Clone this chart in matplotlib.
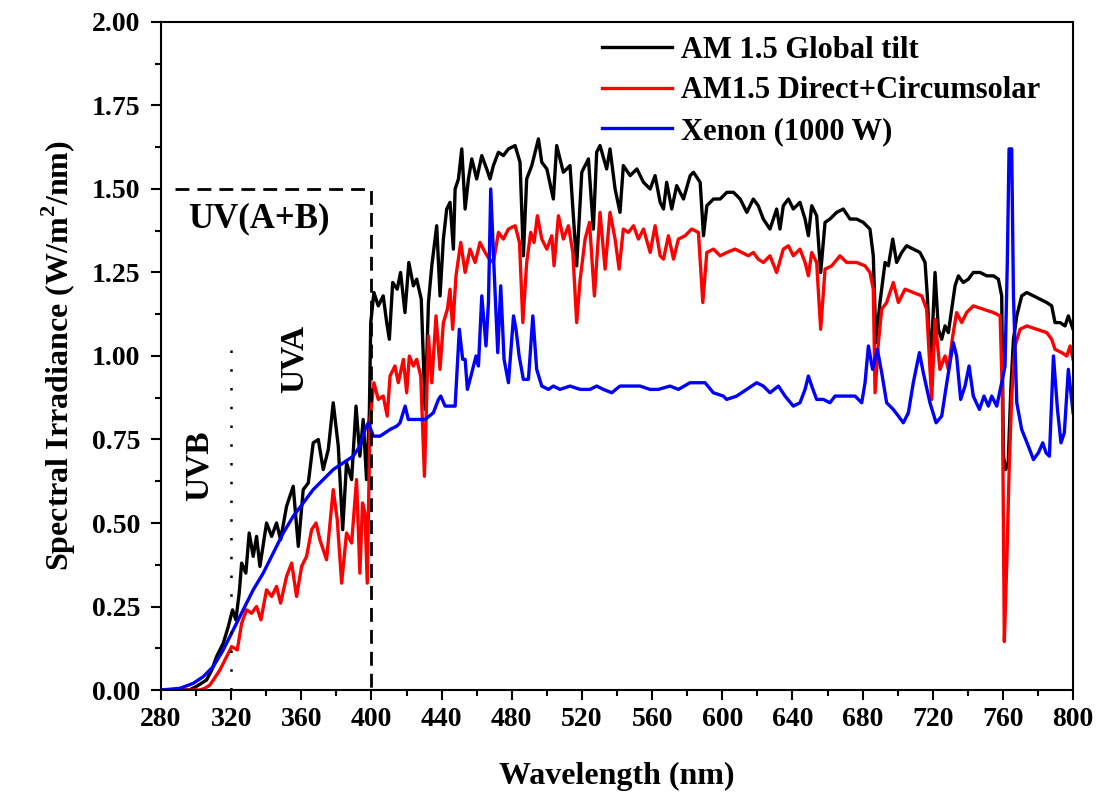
import matplotlib
matplotlib.use("Agg")
import matplotlib.pyplot as plt
from matplotlib.ticker import MultipleLocator

# AM 1.5 Global tilt
wl_global = [280, 290, 296, 300, 303, 306, 309, 311.7, 315.5, 318.4, 320.8, 322.7, 324.6, 326, 328.4,
             330.3, 332.6, 334.5, 336.4, 340.2, 343.1, 345.9, 348.2, 351.6, 355.4, 358.3, 361.1, 364,
             366.8, 369.7, 372.5, 375.4, 378.2, 381.1, 383.6, 385.8, 388.7, 391.2, 393.4, 395.3, 397.2,
             398.8, 399.6, 401.4, 403.9, 406.7, 408.7, 410.2, 412.1, 414.7, 416.6, 419.1, 421.3, 423.9,
             425.8, 428.4, 430.6, 432.5, 434.4, 437.2, 439.1, 441, 442.9, 444.8, 446.7, 447.7, 449.6,
             451.5, 453.4, 455.3, 457.2, 460, 462.9, 465.7, 467.6, 469.5, 472.4, 475.2, 478.1, 481.9,
             484.7, 486.6, 488.5, 491.4, 493.3, 495.2, 497.1, 500, 503.7, 505.6, 509.4, 513.2, 517,
             519.9, 523.7, 526.5, 528.4, 530.3, 534.1, 536, 538.9, 541.7, 543.6, 547.5, 551.3, 555.1,
             558.9, 561.7, 564.6, 566.5, 568.3, 571.2, 574, 577.9, 581.7, 583.6, 587.4, 589.3, 591.2,
             595, 598.8, 602.6, 606.4, 610.2, 614, 617.7, 620.5, 623.4, 627.2, 631, 632.9, 634.8, 637.7,
             640.5, 644.3, 647.2, 649.1, 651, 653.8, 656.1, 658.6, 661.4, 665.2, 669, 672.8, 676.6,
             680.4, 684.2, 686.1, 687.6, 689.9, 692.8, 694.7, 697.2, 699.4, 702.3, 705.1, 708.9, 712.7,
             715.6, 716.9, 718.8, 721.3, 723.2, 725.1, 727, 728.9, 730.8, 732.7, 734.6, 737.4, 740.3,
             743.1, 747, 750.8, 754.6, 757.4, 759.3, 760.3, 761.5, 763, 764.5, 766, 767.9, 770.7, 773.6,
             777.4, 781.2, 785, 787.8, 789.7, 792.6, 795.4, 797.3, 800]
irr_global = [0, 0, 0, 0.01, 0.02, 0.03, 0.06, 0.10, 0.14, 0.19, 0.24, 0.21, 0.29, 0.38, 0.35,
              0.47, 0.40, 0.46, 0.37, 0.50, 0.46, 0.50, 0.45, 0.55, 0.61, 0.43, 0.60, 0.62,
              0.74, 0.75, 0.66, 0.72, 0.86, 0.73, 0.48, 0.68, 0.63, 0.85, 0.70, 0.81, 0.63,
              0.83, 1.10, 1.19, 1.15, 1.18, 1.10, 1.05, 1.22, 1.20, 1.25, 1.13, 1.28, 1.21,
              1.23, 1.17, 0.84, 1.16, 1.27, 1.39, 1.18, 1.35, 1.44, 1.46, 1.32, 1.50, 1.53,
              1.62, 1.44, 1.53, 1.59, 1.53, 1.60, 1.56, 1.53, 1.57, 1.61, 1.60, 1.62, 1.63,
              1.58, 1.30, 1.53, 1.57, 1.61, 1.65, 1.58, 1.56, 1.47, 1.63, 1.55, 1.57, 1.27,
              1.55, 1.59, 1.38, 1.61, 1.63, 1.56, 1.62, 1.50, 1.43, 1.57, 1.54, 1.56, 1.52,
              1.50, 1.54, 1.46, 1.44, 1.52, 1.44, 1.51, 1.47, 1.54, 1.55, 1.52, 1.36, 1.45,
              1.47, 1.47, 1.49, 1.49, 1.47, 1.43, 1.47, 1.45, 1.41, 1.38, 1.44, 1.38, 1.45, 1.47,
              1.44, 1.46, 1.41, 1.36, 1.45, 1.42, 1.25, 1.40, 1.41, 1.43, 1.44, 1.41, 1.41,
              1.40, 1.38, 1.30, 1.04, 1.16, 1.28, 1.27, 1.35, 1.28, 1.31, 1.33, 1.32, 1.31,
              1.28, 1.18, 0.96, 1.25, 1.08, 1.05, 1.09, 1.07, 1.14, 1.21, 1.24, 1.22, 1.23,
              1.25, 1.25, 1.24, 1.24, 1.23, 1.18, 0.70, 0.66, 0.68, 0.90, 1.05, 1.12, 1.18, 1.19,
              1.18, 1.17, 1.16, 1.15, 1.10, 1.10, 1.09, 1.12, 1.08]

# AM1.5 Direct + Circumsolar
wl_direct = [280, 300, 302.2, 305, 307.9, 310.5, 313.6, 317.4, 320.3, 323.5, 326, 328.8, 331.7, 334.5,
             337, 340.2, 343.1, 345.9, 348.2, 351.6, 354.5, 357.3, 360.2, 363, 365.9, 368.4, 370.6,
             374.4, 378.2, 380.5, 383, 385.8, 388.7, 391.5, 393.4, 394.9, 396.3, 397.6, 399.2, 401.4,
             403.9, 406.7, 409, 410.6, 413.4, 415.3, 418.2, 420.1, 421.6, 423.9, 425.8, 428.1, 430.2,
             432.5, 434.4, 436.8, 439.1, 441, 443.3, 444.8, 446.3, 448.2, 450.9, 453.4, 456.2, 459.1,
             461.9, 464.8, 467.2, 469.5, 472.4, 475.2, 478.1, 481.9, 484.4, 486.3, 488.5, 490.8, 492.7,
             494.6, 497.1, 500, 502.8, 504.1, 506.6, 509.4, 512.3, 514.8, 517, 519, 521.8, 524.3,
             527.1, 530.3, 533.2, 536, 538.9, 541.2, 543.6, 546.5, 549.4, 552.2, 555.1, 558.9, 561.7,
             564.6, 566.5, 569.3, 572.2, 575, 578.8, 582.6, 586.4, 588.9, 591.2, 595, 598.8, 602.6,
             607.3, 611.1, 614.9, 617.7, 620.5, 623.4, 627.2, 631, 634.8, 637.7, 640.5, 644.3, 647.2,
             649.1, 651, 653.8, 656.1, 658.6, 662.4, 667.1, 670.9, 676.6, 681.4, 684.2, 686.1, 687.1,
             689, 690.9, 693.7, 697.5, 700.4, 704.2, 708.9, 713.7, 716.5, 719.4, 721.3, 724.1, 727,
             728.9, 731.4, 733.6, 736.5, 739.3, 743.1, 748.9, 754.6, 758.4, 759.7, 760.8, 762.2, 763.5,
             765, 766.9, 769.8, 773.6, 779.3, 785, 787.8, 789.7, 793.5, 796.4, 798.3, 800]
irr_direct = [0, 0, 0, 0.005, 0.015, 0.035, 0.06, 0.10, 0.13, 0.12, 0.20, 0.24, 0.23, 0.25,
              0.21, 0.30, 0.28, 0.31, 0.26, 0.34, 0.38, 0.28, 0.37, 0.40, 0.48, 0.50, 0.45,
              0.39, 0.60, 0.51, 0.32, 0.47, 0.44, 0.63, 0.35, 0.56, 0.53, 0.32, 0.81, 0.92,
              0.87, 0.88, 0.82, 0.94, 0.97, 0.92, 0.99, 0.89, 1.00, 0.97, 0.99, 0.94, 0.64,
              1.06, 0.92, 1.12, 0.96, 1.10, 1.14, 1.20, 1.08, 1.24, 1.34, 1.25, 1.32, 1.28,
              1.34, 1.31, 1.29, 1.28, 1.37, 1.35, 1.38, 1.39, 1.34, 1.10, 1.28, 1.37, 1.34,
              1.42, 1.35, 1.32, 1.36, 1.27, 1.42, 1.35, 1.39, 1.31, 1.10, 1.23, 1.35, 1.40,
              1.18, 1.43, 1.26, 1.43, 1.35, 1.26, 1.38, 1.37, 1.39, 1.35, 1.38, 1.31, 1.39,
              1.30, 1.29, 1.36, 1.29, 1.35, 1.36, 1.38, 1.37, 1.16, 1.31, 1.32, 1.30, 1.31,
              1.32, 1.31, 1.30, 1.31, 1.29, 1.28, 1.30, 1.25, 1.32, 1.33, 1.30, 1.32, 1.28,
              1.24, 1.31, 1.28, 1.08, 1.26, 1.27, 1.30, 1.28, 1.28, 1.27, 1.25, 1.20, 0.89,
              1.04, 1.14, 1.16, 1.22, 1.16, 1.20, 1.19, 1.18, 1.14, 0.87, 1.11, 0.96, 1.00,
              0.96, 1.06, 1.13, 1.10, 1.13, 1.15, 1.14, 1.13, 1.12, 0.88, 0.145, 0.38, 0.65,
              0.88, 1.03, 1.08, 1.09, 1.08, 1.07, 1.05, 1.02, 1.01, 1.00, 1.03, 0.99]

# Xenon lamp (1000 W)
wl_xenon = [280, 290.8, 298.4, 304.1, 309.8, 315.5, 321.2, 326.9, 332.6, 338.3, 344, 349.7, 355.4,
            361.1, 366.8, 372.5, 378.2, 383.9, 389.6, 393.4, 396.3, 398.2, 401.1, 404.9, 410.6, 414.4,
            416.3, 419.2, 421, 425.8, 430.6, 435.3, 438.2, 439.5, 442, 444.8, 447.7, 450.1, 452,
            453.4, 454.7, 457.2, 459.6, 461, 462.9, 465.3, 466.7, 468, 469.9, 472, 473.7, 475.6,
            478.1, 481, 482.4, 484.2, 486.6, 489.5, 492, 494.2, 497.1, 500.9, 503.7, 507.5, 513.2,
            519, 524.6, 528.4, 532.2, 537, 541.7, 545.5, 553.1, 558.8, 563.6, 570.2, 575, 581.6,
            585.4, 590.2, 594.9, 600.6, 602.5, 608.2, 613.9, 619.6, 623.4, 627.2, 632, 635.8, 640.5,
            644.3, 647.2, 649.1, 651, 653.8, 657.6, 661.4, 664.3, 669, 672.8, 675.7, 679.5, 681.4,
            683.3, 685.7, 688.4, 690.9, 693.7, 697.5, 700.4, 703.2, 706.1, 708.9, 712.4, 714.6,
            718.4, 721.9, 725.1, 728, 731.7, 733.6, 735.9, 738.4, 740.7, 743.1, 746.6, 749.2, 751.7,
            753.6, 756.5, 759.3, 761.2, 762.5, 763.5, 765, 766, 767.9, 770.7, 774.5, 777.4, 780.2,
            782.7, 784.6, 786.5, 788.8, 791.1, 793.1, 795, 797.3, 800]
irr_xenon = [0, 0.005, 0.02, 0.04, 0.07, 0.12, 0.18, 0.24, 0.30, 0.35, 0.41, 0.47, 0.52,
             0.56, 0.60, 0.63, 0.66, 0.68, 0.70, 0.73, 0.78, 0.80, 0.76, 0.76, 0.78, 0.79,
             0.80, 0.85, 0.81, 0.81, 0.81, 0.83, 0.87, 0.88, 0.85, 0.85, 0.85, 1.08, 0.99,
             0.99, 0.90, 0.95, 1.00, 0.97, 1.18, 1.03, 1.16, 1.50, 1.26, 1.01, 1.21, 0.99,
             0.92, 1.12, 1.08, 1.00, 0.93, 0.93, 1.12, 0.96, 0.91, 0.90, 0.91, 0.90, 0.91,
             0.90, 0.90, 0.91, 0.90, 0.89, 0.91, 0.91, 0.91, 0.90, 0.90, 0.91, 0.90, 0.92,
             0.92, 0.92, 0.89, 0.88, 0.87, 0.88, 0.90, 0.92, 0.91, 0.89, 0.91, 0.88, 0.85,
             0.86, 0.90, 0.94, 0.91, 0.87, 0.87, 0.86, 0.88, 0.88, 0.88, 0.88, 0.86, 0.92,
             1.03, 0.96, 1.02, 0.95, 0.86, 0.84, 0.82, 0.80, 0.83, 0.92, 1.01, 0.95,
             0.86, 0.80, 0.82, 0.92, 1.04, 1.00, 0.87, 0.91, 0.97, 0.88, 0.84, 0.88, 0.85,
             0.88, 0.85, 0.92, 0.97, 1.28, 1.62, 1.62, 1.18, 0.86, 0.78, 0.73, 0.69, 0.71,
             0.74, 0.71, 0.70, 1.00, 0.84, 0.74, 0.77, 0.96, 0.83]

x_ticks = list(range(280, 801, 40))
y_ticks = [0.00, 0.25, 0.50, 0.75, 1.00, 1.25, 1.50, 1.75, 2.00]

FONT = "Liberation Serif"


def main():
    plt.rcParams["font.family"] = FONT
    plt.rcParams["font.weight"] = "bold"
    plt.rcParams["mathtext.fontset"] = "custom"
    plt.rcParams["mathtext.rm"] = FONT + ":bold"
    plt.rcParams["mathtext.bf"] = FONT + ":bold"

    fig = plt.figure(figsize=(11.04, 7.99), dpi=100)
    ax = fig.add_axes([0.1458, 0.1364, 0.8262, 0.8361])

    lw = 2.4
    ax.plot(wl_global, irr_global, color="black", lw=lw, label="AM 1.5 Global tilt")
    ax.plot(wl_direct, irr_direct, color="#ff0000", lw=lw, label="AM1.5 Direct+Circumsolar")
    ax.plot(wl_xenon, irr_xenon, color="#0000ff", lw=lw, label="Xenon (1000 W)")

    # UV region markers
    ax.plot([288, 400, 400], [1.5, 1.5, 0], color="black", lw=2.0,
            linestyle=(0, (5, 2.9)), zorder=4)
    ax.plot([320, 320], [0, 1.05], color="black", lw=1.8,
            linestyle=(0, (1, 6.5)), zorder=4)

    ax.text(336, 1.41, "UV(A+B)", fontsize=25, fontweight="bold", ha="center", va="center")
    ax.text(302, 0.67, "UVB", fontsize=24, fontweight="bold", ha="center", va="center",
            rotation=90)
    ax.text(356, 0.99, "UVA", fontsize=24, fontweight="bold", ha="center", va="center",
            rotation=90)

    ax.set_xlim(280, 800)
    ax.set_ylim(0, 2.0)
    ax.set_xticks(x_ticks)
    ax.set_yticks(y_ticks)
    ax.set_yticklabels([f"{v:.2f}" for v in y_ticks])
    ax.xaxis.set_minor_locator(MultipleLocator(20))
    ax.yaxis.set_minor_locator(MultipleLocator(0.125))
    ax.tick_params(which="major", direction="out", length=7, width=1.5,
                   labelsize=20, pad=5)
    ax.tick_params(which="minor", direction="out", length=4, width=1.5)
    ax.tick_params(axis="y", which="major", pad=8)
    for s in ax.spines.values():
        s.set_linewidth(1.5)

    ax.set_xlabel("Wavelength (nm)", fontsize=23, fontweight="bold", labelpad=22)
    ax.set_ylabel("Spectral Irradiance (W/m$^{2}$/nm)", fontsize=23,
                  fontweight="bold", labelpad=10)

    ax.legend(loc="upper left", bbox_to_anchor=(0.468, 1.0), frameon=False,
              handlelength=2.3, handletextpad=0.3, labelspacing=0.38,
              borderaxespad=0.05, prop={"family": FONT, "weight": "bold", "size": 22})

    fig.savefig("out.png", dpi=100)
    plt.close(fig)


if __name__ == "__main__":
    main()
